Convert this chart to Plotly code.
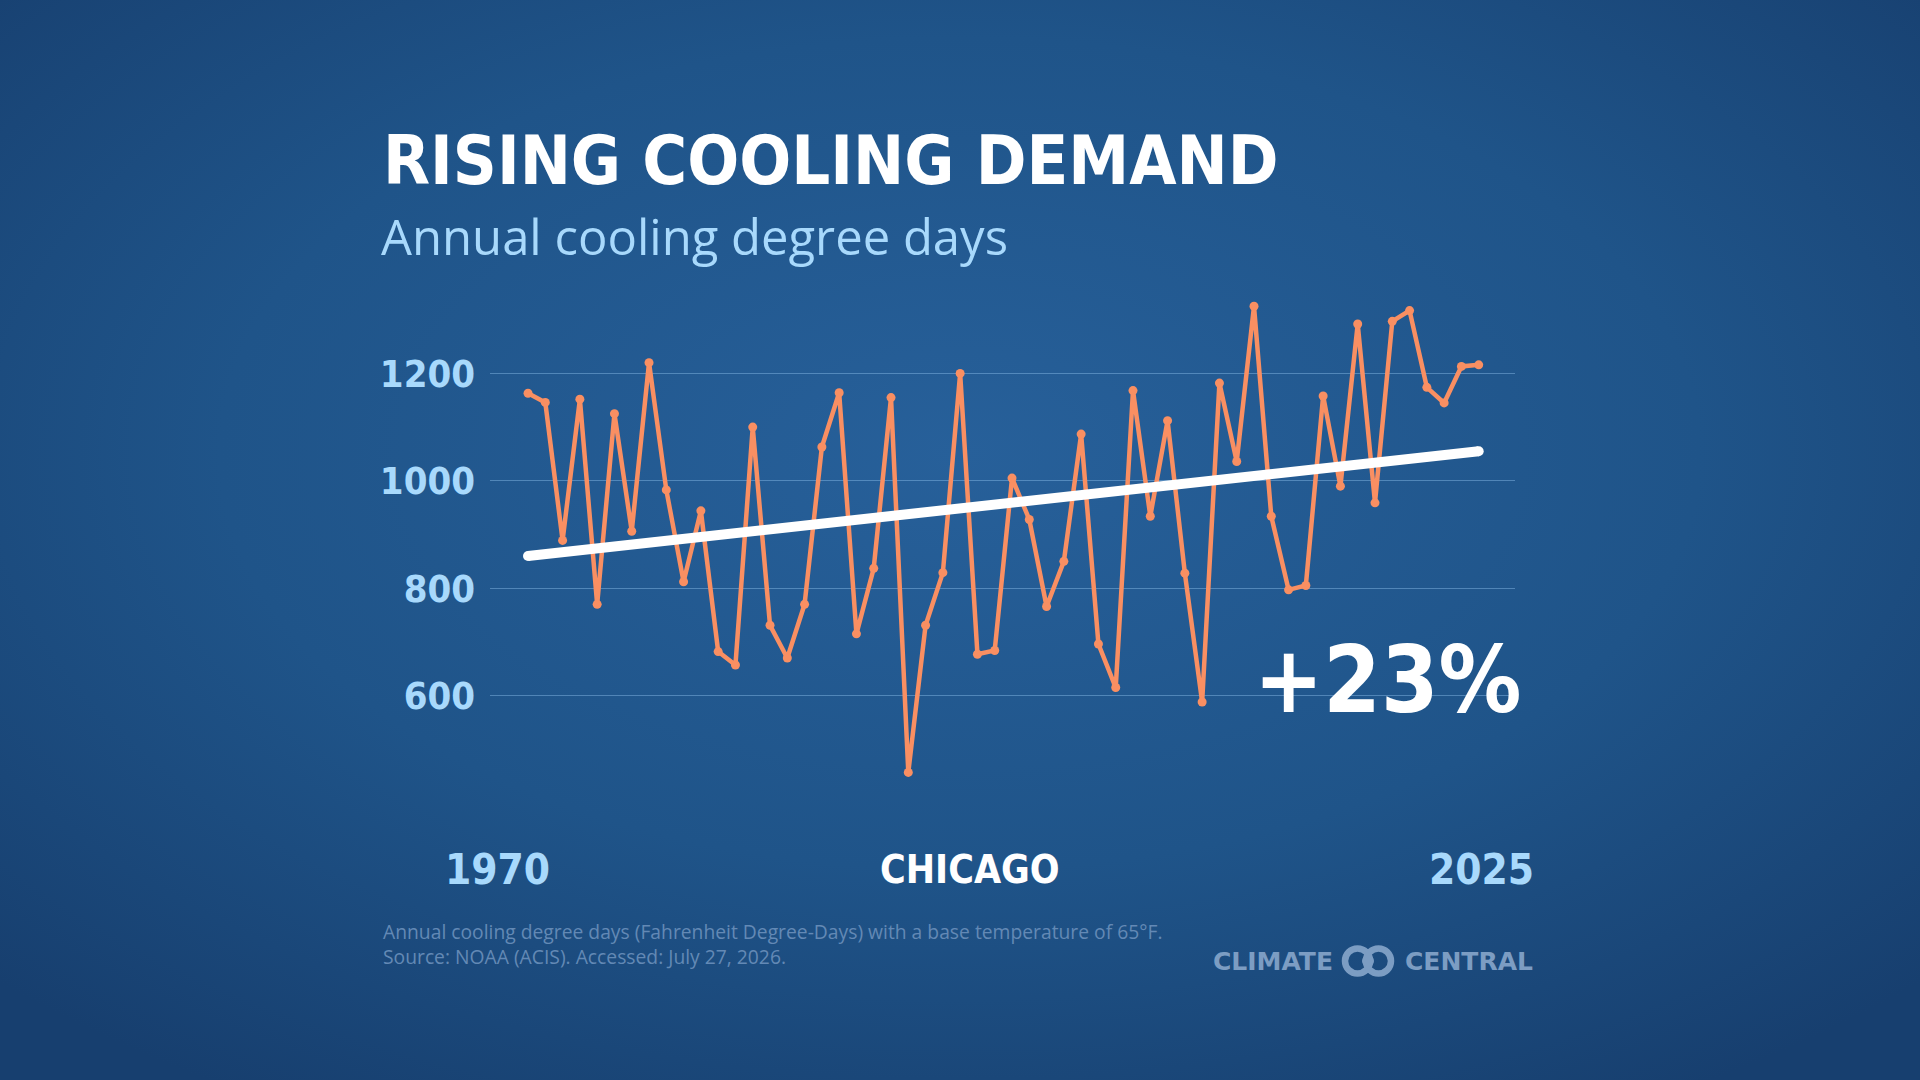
import base64

import plotly.graph_objects as go

W, H = 1920, 1080

years = list(range(1970, 2026))
cooling_degree_days = [
    1163, 1146, 889, 1152, 770, 1125, 906, 1220, 983, 812,
    944, 682, 657, 1100, 731, 670, 770, 1063, 1164, 715,
    837, 1155, 457, 731, 829, 1200, 677, 684, 1005, 928,
    766, 850, 1087, 696, 615, 1168, 934, 1112, 828, 588,
    1182, 1036, 1325, 934, 797, 805, 1158, 990, 1292, 959,
    1297, 1317, 1174, 1145, 1213, 1216,
]
trend_years = [1970, 2025]
trend_values = [860, 1055]
y_ticks = [600, 800, 1000, 1200]

ORANGE = "#f98f62"
LIGHT_BLUE = "#a8d9fc"
CONDENSED = "DejaVu Sans Condensed, DejaVu Sans, sans-serif"
SANS = "Open Sans"
LOGO = "#7c9dc3"


def px(x, y):
    # pixel position -> paper fraction (margins are zero)
    return x / W, 1 - y / H


def background_svg():
    svg = f"""<svg xmlns='http://www.w3.org/2000/svg' width='{W}' height='{H}'>
<defs>
<radialGradient id='g' cx='50%' cy='42%' r='70%'>
<stop offset='0%' stop-color='#27609a'/>
<stop offset='55%' stop-color='#1f5489'/>
<stop offset='100%' stop-color='#173f6f'/>
</radialGradient>
</defs>
<rect width='100%' height='100%' fill='url(#g)'/>
</svg>"""
    return "data:image/svg+xml;base64," + base64.b64encode(svg.encode()).decode()


fig = go.Figure()

fig.add_trace(go.Scatter(
    x=years,
    y=cooling_degree_days,
    mode="lines+markers",
    line=dict(color=ORANGE, width=4.5),
    marker=dict(color=ORANGE, size=9),
    hoverinfo="skip",
))

fig.add_trace(go.Scatter(
    x=trend_years,
    y=trend_values,
    mode="lines+markers",
    line=dict(color="white", width=10),
    marker=dict(color="white", size=10),
    hoverinfo="skip",
))


def add_text(text, x, y, size, color, family, xanchor="left", weight="normal"):
    xp, yp = px(x, y)
    fig.add_annotation(
        text=text, x=xp, y=yp, xref="paper", yref="paper",
        xanchor=xanchor, yanchor="middle", showarrow=False,
        font=dict(family=family, size=size, color=color, weight=weight),
    )


add_text("RISING COOLING DEMAND", 381, 160, 68, "white", CONDENSED, weight="bold")
add_text("Annual cooling degree days", 379, 236, 49, LIGHT_BLUE, SANS)
add_text("1970", 497, 869, 42, LIGHT_BLUE, CONDENSED, "center", "bold")
add_text("CHICAGO", 970, 869, 39, "white", CONDENSED, "center", "bold")
add_text("2025", 1481, 869, 42, LIGHT_BLUE, CONDENSED, "center", "bold")
add_text("+23%", 1523, 680, 92, "white", CONDENSED, "right", "bold")

xp, yp = px(381, 944)
fig.add_annotation(
    text="Annual cooling degree days (Fahrenheit Degree-Days) with a base temperature of 65°F."
         "<br>Source: NOAA (ACIS). Accessed: July 27, 2026.",
    x=xp, y=yp, xref="paper", yref="paper", xanchor="left", yanchor="middle",
    align="left", showarrow=False,
    font=dict(family=SANS, size=19.3, color="#6389b5"),
)

# Climate Central wordmark
add_text("CLIMATE", 1211, 961, 25, LOGO, "DejaVu Sans", weight="bold")
add_text("CENTRAL", 1403, 961, 25, LOGO, "DejaVu Sans", weight="bold")
for cx in (1357.5, 1378.5):
    x0, y0 = px(cx - 12.5, 961 + 12.5)
    x1, y1 = px(cx + 12.5, 961 - 12.5)
    fig.add_shape(type="circle", xref="paper", yref="paper",
                  x0=x0, y0=y0, x1=x1, y1=y1, line=dict(color=LOGO, width=6.5))
x0, y0 = px(1362, 967)
x1, y1 = px(1374, 955)
fig.add_shape(type="circle", xref="paper", yref="paper",
              x0=x0, y0=y0, x1=x1, y1=y1, fillcolor=LOGO, line=dict(width=0))

fig.add_layout_image(
    source=background_svg(), xref="paper", yref="paper",
    x=0, y=1, sizex=1, sizey=1, sizing="stretch", layer="below",
    xanchor="left", yanchor="top",
)

fig.update_layout(
    width=W,
    height=H,
    margin=dict(l=0, r=0, t=0, b=0),
    paper_bgcolor="#1f5388",
    plot_bgcolor="rgba(0,0,0,0)",
    showlegend=False,
    xaxis=dict(
        domain=[490 / W, 1515 / W],
        range=[1967.8, 2027.1],
        showgrid=False, zeroline=False, showticklabels=False, showline=False,
    ),
    yaxis=dict(
        domain=[1 - 803 / H, 1 - 266 / H],
        range=[400, 1400],
        tickvals=y_ticks,
        showgrid=True,
        gridcolor="rgba(140,190,235,0.45)",
        gridwidth=1,
        zeroline=False,
        showline=False,
        ticks="",
        ticklabelstandoff=14,
        tickfont=dict(family=CONDENSED, size=38, color=LIGHT_BLUE, weight="bold"),
    ),
)

fig.write_html(
    "out.html",
    config={"displayModeBar": False},
    post_script="document.body.style.margin='0';document.body.style.overflow='hidden';",
)
